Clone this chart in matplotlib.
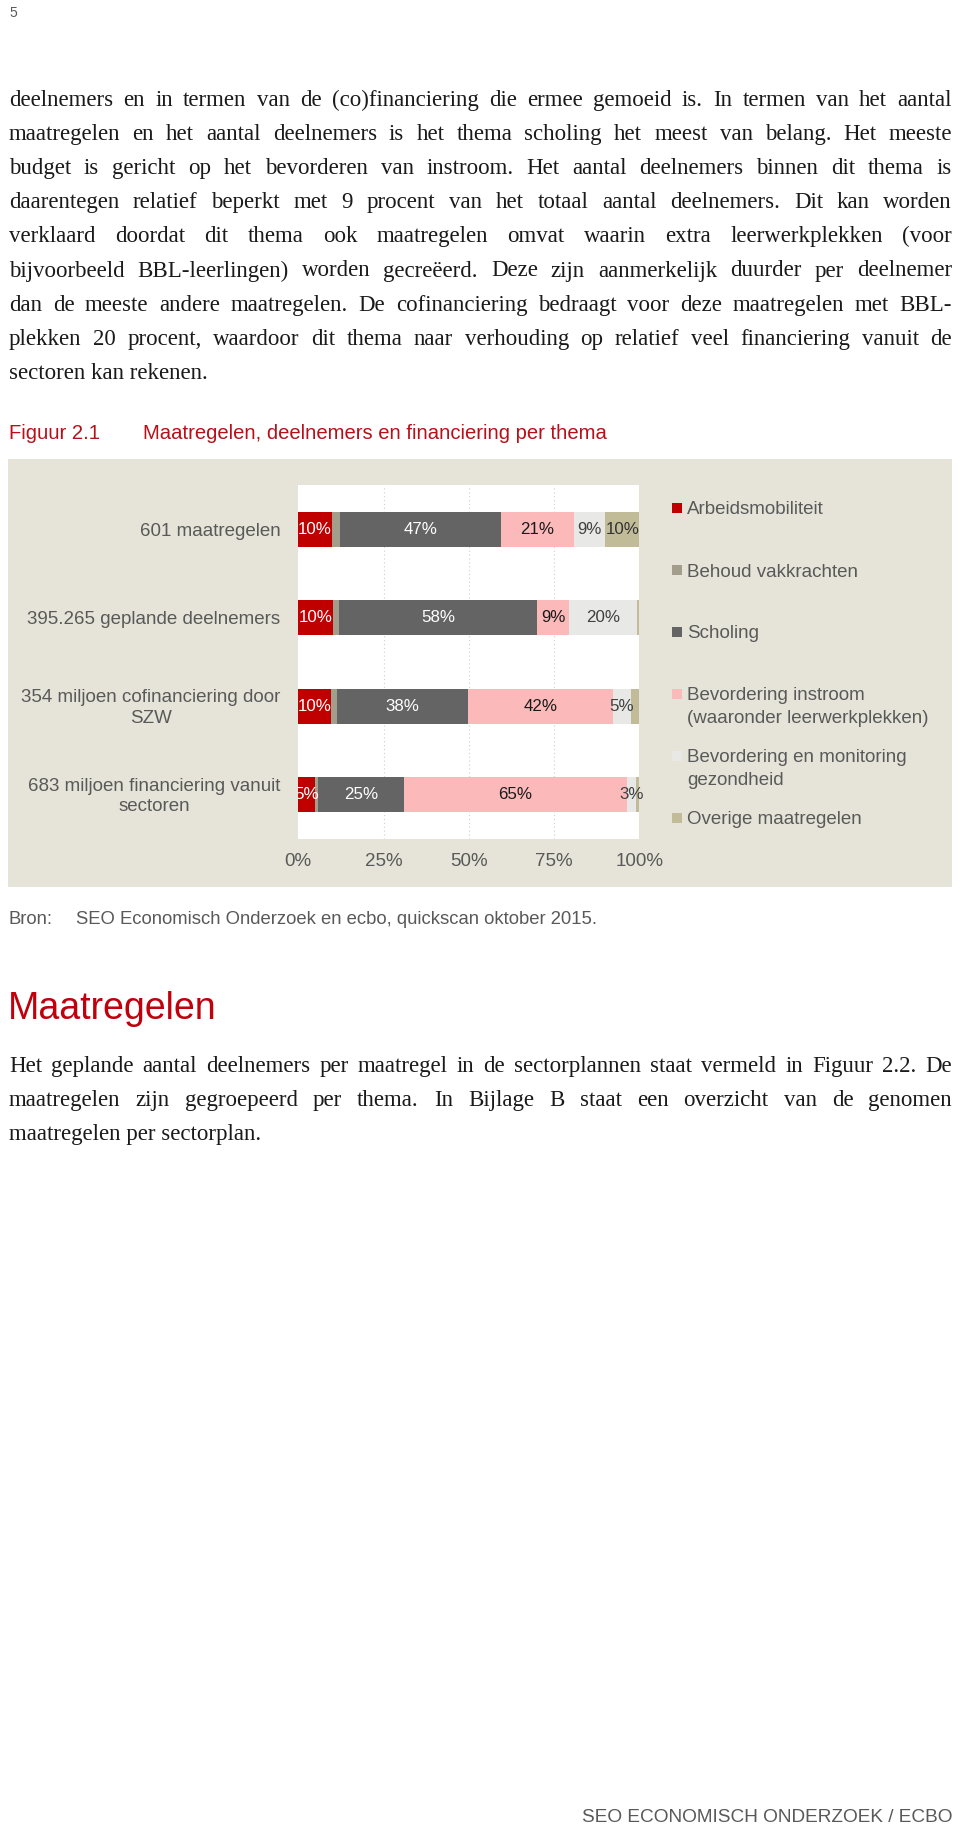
import matplotlib
matplotlib.use('Agg')
import matplotlib.pyplot as plt
from matplotlib.patches import Rectangle
from matplotlib.transforms import Bbox, TransformedBbox, blended_transform_factory

W, H, DPI = 960, 1827, 100

# chart data (percent of each total)
categories = ['601 maatregelen',
              '395.265 geplande deelnemers',
              '354 miljoen cofinanciering door\nSZW',
              '683 miljoen financiering vanuit\nsectoren']
themes = ['Arbeidsmobiliteit',
          'Behoud vakkrachten',
          'Scholing',
          'Bevordering instroom\n(waaronder leerwerkplekken)',
          'Bevordering en monitoring\ngezondheid',
          'Overige maatregelen']
arbeid = [9.8, 10.1, 9.6, 5.0]
behoud = [2.3, 1.8, 1.8, 0.9]
scholing = [47.4, 58.1, 38.3, 25.0]
instroom = [21.3, 9.4, 42.5, 65.4]
gezondheid = [9.2, 20.0, 5.4, 2.7]
overig = [10.0, 0.6, 2.4, 1.0]
xticks = [0, 25, 50, 75, 100]
xticklabels = ['0%', '25%', '50%', '75%', '100%']

colors = ['#c00000', '#a39e8c', '#646464', '#fbb9ba', '#e8e8e6', '#c2bb98']
label_colors = ['white', None, 'white', '#1a1a1a', '#404040', '#333333']

# page text
para1 = [
    "deelnemers en in termen van de (co)financiering die ermee gemoeid is. In termen van het aantal",
    "maatregelen en het aantal deelnemers is het thema scholing het meest van belang. Het meeste",
    "budget is gericht op het bevorderen van instroom. Het aantal deelnemers binnen dit thema is",
    "daarentegen relatief beperkt met 9 procent van het totaal aantal deelnemers. Dit kan worden",
    "verklaard doordat dit thema ook maatregelen omvat waarin extra leerwerkplekken (voor",
    "bijvoorbeeld BBL-leerlingen) worden gecreëerd. Deze zijn aanmerkelijk duurder per deelnemer",
    "dan de meeste andere maatregelen. De cofinanciering bedraagt voor deze maatregelen met BBL-",
    "plekken 20 procent, waardoor dit thema naar verhouding op relatief veel financiering vanuit de",
    "sectoren kan rekenen.",
]
para2 = [
    "Het geplande aantal deelnemers per maatregel in de sectorplannen staat vermeld in Figuur 2.2. De",
    "maatregelen zijn gegroepeerd per thema. In Bijlage B staat een overzicht van de genomen",
    "maatregelen per sectorplan.",
]

SANS = 'Liberation Sans'
SERIF = 'Liberation Serif'
GREY = '#595959'


def fx(x):
    return x / W


def fy(y):
    return 1 - y / H


fig = plt.figure(figsize=(W / DPI, H / DPI), dpi=DPI)
fig.patch.set_facecolor('white')
renderer = fig.canvas.get_renderer()

LEFT, RIGHT = 9, 952


def justify(lines, y0, step, size=16.5):
    for i, line in enumerate(lines):
        y = fy(y0 + i * step)
        if i == len(lines) - 1:
            fig.text(fx(LEFT), y, line, family=SERIF, fontsize=size,
                     color='#1a1a1a', va='baseline')
            continue
        words = line.split()
        arts = [fig.text(0, y, w, family=SERIF, fontsize=size,
                         color='#1a1a1a', va='baseline') for w in words]
        widths = [a.get_window_extent(renderer).width for a in arts]
        gap = (RIGHT - LEFT - sum(widths)) / (len(words) - 1)
        x = LEFT
        for a, w in zip(arts, widths):
            a.set_x(fx(x))
            x += w + gap


# page number
fig.text(fx(9), fy(17), '5', family=SANS, fontsize=10, color=GREY, va='baseline')

justify(para1, 106, 34.1)

# figure title
fig.text(fx(9), fy(439), 'Figuur 2.1', family=SANS, fontsize=14.6,
         color='#b8101a', va='baseline')
fig.text(fx(143), fy(439), 'Maatregelen, deelnemers en financiering per thema',
         family=SANS, fontsize=14.6, color='#b8101a', va='baseline')

# chart background
fig.patches.append(Rectangle((fx(8), fy(887)), (952 - 8) / W, (887 - 459) / H,
                             transform=fig.transFigure, facecolor='#e6e4d8',
                             edgecolor='none', zorder=0))

ax = fig.add_axes([fx(298.3), fy(839), 341 / W, 354 / H], zorder=2)
ax.set_facecolor('white')
for s in ax.spines.values():
    s.set_visible(False)

series = [arbeid, behoud, scholing, instroom, gezondheid, overig]
ypos = list(range(len(categories)))
left = [0.0] * len(categories)
clipbox = TransformedBbox(Bbox([[0, 0], [1.1, 1]]), ax.transAxes)
for vals, col, lcol in zip(series, colors, label_colors):
    ax.barh(ypos, vals, left=left, height=0.395, color=col, zorder=2)
    for yi, (l, v) in enumerate(zip(left, vals)):
        if lcol is not None and round(v) >= 3:
            t = ax.text(l + v / 2, yi, f'{round(v)}%', ha='center', va='center',
                        family=SANS, fontsize=12.2, color=lcol, zorder=3)
            t.set_clip_box(clipbox)
            t.set_clip_on(True)
    left = [a + b for a, b in zip(left, vals)]

ax.set_xlim(0, 100)
ax.set_ylim(len(categories) - 0.5, -0.5)
ax.set_xticks(xticks, xticklabels)
ax.set_yticks(ypos, [''] * len(categories))
ax.tick_params(axis='both', length=0, labelsize=13.5, labelcolor=GREY)
ax.tick_params(axis='x', pad=10)
for t in ax.get_xticklabels():
    t.set_family(SANS)

# category labels, right aligned left of the plot
ytrans = blended_transform_factory(ax.transAxes, ax.transData)
for yi, cat in zip(ypos, categories):
    ax.text(-18 / 341, yi + 0.02, cat, transform=ytrans, ha='right', va='center',
            multialignment='center', linespacing=1.3, family=SANS,
            fontsize=13.5, color=GREY)

ax.xaxis.grid(True, linestyle=(0, (1, 2.5)), color='#cfcfcf', linewidth=0.8, zorder=1)
ax.set_axisbelow(True)
ax.get_xgridlines()[0].set_visible(False)

# legend
for i, (name, col) in enumerate(zip(themes, colors)):
    yc = 508 + i * 62
    fig.patches.append(Rectangle((fx(672), fy(yc + 5)), 10 / W, 10 / H,
                                 transform=fig.transFigure, facecolor=col,
                                 edgecolor='none', zorder=3))
    for j, part in enumerate(name.split('\n')):
        fig.text(fx(687), fy(yc + j * 22.5), part, family=SANS, fontsize=13.5,
                 color=GREY, va='center_baseline', zorder=3)

# source
fig.text(fx(9), fy(924), 'Bron:', family=SANS, fontsize=13.3, color=GREY, va='baseline')
fig.text(fx(76), fy(924), 'SEO Economisch Onderzoek en ecbo, quickscan oktober 2015.',
         family=SANS, fontsize=13.3, color=GREY, va='baseline')

# heading
fig.text(fx(8), fy(1019), 'Maatregelen', family=SANS, fontsize=27,
         color='#c0000c', va='baseline')

justify(para2, 1072, 34)

# footer
fig.text(fx(952), fy(1822), 'SEO ECONOMISCH ONDERZOEK / ECBO', family=SANS,
         fontsize=13.7, color=GREY, ha='right', va='baseline')

fig.savefig('out.png', dpi=DPI)
